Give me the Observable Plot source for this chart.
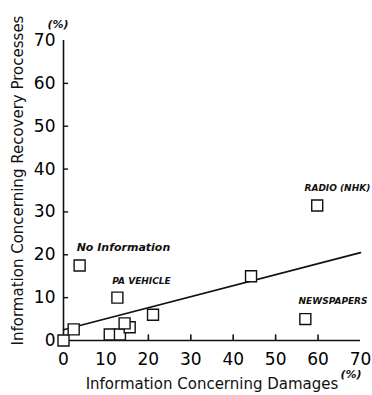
<!DOCTYPE html>
<html><head><meta charset="utf-8">
<script src="https://cdn.jsdelivr.net/npm/d3@7"></script>
<script src="https://cdn.jsdelivr.net/npm/@observablehq/plot@0.6"></script>
<style>
body{margin:0;background:#fff;}
g[aria-label="ytitle"] text{letter-spacing:1.7px;}
g[aria-label="xtitle"] text{letter-spacing:1px;}
g[aria-label="mixed-labels"] text{letter-spacing:1.1px;}
g[aria-label="caps-labels"] text{letter-spacing:0px;}
</style></head><body>
<div id="chart"></div>
<script>
// Data
const damages  = [0, 2.4, 3.8, 12.7, 10.9, 13.3, 15.6, 14.4, 21.1, 44.2, 57.0, 59.8];
const recovery = [0, 2.6, 17.5, 10.0, 1.4, 1.4, 3.1, 4.0, 6.0, 15.0, 5.0, 31.5];
const trendX = [0, 70];
const trendY = [2.5, 20.5];
const tickValues = [0, 10, 20, 30, 40, 50, 60, 70];
const innerTicks = [10, 20, 30, 40, 50, 60];
const labelText = ["No Information", "PA VEHICLE", "NEWSPAPERS", "RADIO (NHK)"];
const labelX = [3.1, 11.5, 55.4, 56.8];
const labelY = [21.6, 13.8, 9.1, 35.6];

const pts = damages.map((d, i) => ({x: d, y: recovery[i]}));
const trend = trendX.map((d, i) => ({x: d, y: trendY[i]}));
const labels = labelText.map((t, i) => ({t, x: labelX[i], y: labelY[i]}));

const font = '"DejaVu Sans",sans-serif';

const chart = Plot.plot({
  width: 372, height: 395,
  marginLeft: 63, marginRight: 12, marginTop: 40, marginBottom: 55,
  style: {fontFamily: font, background: "#fff", overflow: "hidden"},
  x: {domain: [0, 70]},
  y: {domain: [0, 70]},
  marks: [
    Plot.axisX({ticks: tickValues, tickSize: 0, tickPadding: 12, fontSize: 17, label: null, tickFormat: d => String(d)}),
    Plot.axisY({ticks: tickValues, tickSize: 0, tickPadding: 8, fontSize: 17, label: null, tickFormat: d => String(d)}),
    Plot.ruleX([0], {y1: 0, y2: 70, stroke: "#111", strokeWidth: 1.6}),
    Plot.ruleY([0], {x1: 0, x2: 70, stroke: "#111", strokeWidth: 1.6}),
    Plot.ruleY(innerTicks, {x1: 0, x2: 1.2, stroke: "#111", strokeWidth: 1.4}),
    Plot.ruleX(innerTicks, {y1: 0, y2: 1.3, stroke: "#111", strokeWidth: 1.6}),
    Plot.line(trend, {x: "x", y: "y", stroke: "#111", strokeWidth: 1.6}),
    Plot.dot(pts, {x: "x", y: "y", symbol: "square", r: 6.2, fill: "#fff", stroke: "#111", strokeWidth: 1.4}),
    Plot.text(labels.filter(d => d.t !== d.t.toUpperCase()), {x: "x", y: "y", text: "t", textAnchor: "start", fontSize: 11, fontWeight: "bold", fontStyle: "italic", fill: "#111", ariaLabel: "mixed-labels"}),
    Plot.text(labels.filter(d => d.t === d.t.toUpperCase()), {x: "x", y: "y", text: "t", textAnchor: "start", fontSize: 9, fontWeight: "bold", fontStyle: "italic", fill: "#111", ariaLabel: "caps-labels"}),
    Plot.text(["Information Concerning Recovery Processes"], {frameAnchor: "left", textAnchor: "middle", dx: -45.5, dy: -10, rotate: -90, fontSize: 15, fill: "#111", ariaLabel: "ytitle"}),
    Plot.text(["Information Concerning Damages"], {frameAnchor: "bottom", dy: 48, fontSize: 15, fill: "#111", ariaLabel: "xtitle"}),
    Plot.text(["(%)"], {frameAnchor: "top-left", dx: -16, dy: -20, fontSize: 11, fontWeight: "bold", fontStyle: "italic", fill: "#111"}),
    Plot.text(["(%)"], {frameAnchor: "bottom-right", dx: 1, dy: 37, fontSize: 11, fontWeight: "bold", fontStyle: "italic", fill: "#111"})
  ]
});
document.getElementById("chart").appendChild(chart);
</script>
</body></html>
